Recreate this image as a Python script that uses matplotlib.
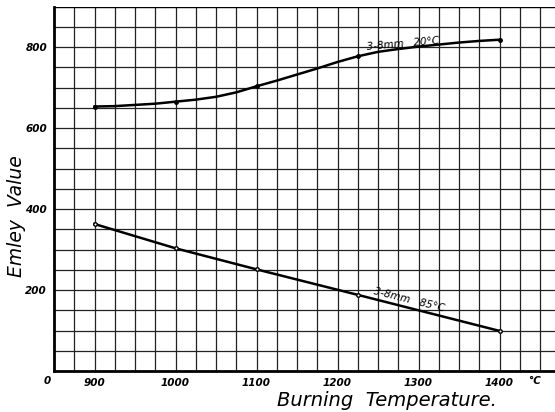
import matplotlib
matplotlib.use("Agg")
import matplotlib.pyplot as plt
import numpy as np

# measured points (with dots on the sheet)
temp_pts = [900, 1000, 1100, 1225, 1400]
emley_20c_pts = [653, 665, 703, 778, 818]
emley_85c_pts = [363, 303, 251, 188, 99]

# curve of the 20 C series
temp_curve = [900, 925, 950, 975, 1000, 1025, 1050, 1075, 1100, 1125, 1150, 1175,
              1200, 1225, 1250, 1275, 1300, 1325, 1350, 1375, 1400]
emley_20c_curve = [653, 654, 657, 660, 665, 670, 677, 688, 703, 717, 732, 747,
                   763, 777, 788, 795, 801, 806, 811, 815, 818]

xticks = [900, 1000, 1100, 1200, 1300, 1400]
yticks = [200, 400, 600, 800]

fig = plt.figure(figsize=(5.55, 4.12), dpi=100)
ax = fig.add_axes([54/555, 41/412, 1 - 54/555, 364.5/412])
ax.set_xlim(850, 1468.5)
ax.set_ylim(0, 900)

# grid paper
for gx in np.arange(875, 1468, 25):
    ax.axvline(gx, color="#222222", lw=0.9, zorder=1)
for gy in np.arange(50, 901, 50):
    ax.axhline(gy, color="#222222", lw=0.9, zorder=1)

ax.plot(temp_curve, emley_20c_curve, color="black", lw=1.8, zorder=3)
ax.plot(temp_pts, emley_20c_pts, "o", color="black", ms=2.5, zorder=4)
ax.plot(temp_pts, emley_85c_pts, color="black", lw=1.8, zorder=3)
ax.plot(temp_pts, emley_85c_pts, "o", color="black", ms=2.5, mfc="white", mew=1, zorder=4)

for s in ["top", "right"]:
    ax.spines[s].set_visible(False)
ax.spines["left"].set_linewidth(2)
ax.spines["bottom"].set_linewidth(2)
ax.axhline(900, color="black", lw=1.6, zorder=2)

ax.set_xticks(xticks)
ax.set_yticks(yticks)
ax.tick_params(length=0, pad=5)
for lab in ax.get_xticklabels() + ax.get_yticklabels():
    lab.set_fontstyle("italic")
    lab.set_fontweight("bold")
    lab.set_fontsize(7.5)

fig.text(47/555, 1 - 381/412, "0", fontsize=7.5, style="italic", weight="bold",
         ha="center", va="center")
fig.text(535/555, 1 - 381/412, "°C", fontsize=7.5, style="italic", weight="bold",
         ha="center", va="center")

ax.text(1281, 808, "3-8mm   20°C", fontsize=7.5, style="italic", rotation=5,
        ha="center", va="center", zorder=5)
ax.text(1288, 176, "3-8mm   85°C", fontsize=7.5, style="italic", rotation=-14,
        ha="center", va="center", zorder=5)

fig.text(17/555, 1 - 216/412, "Emley  Value", fontsize=13.5, style="italic",
         rotation=90, ha="center", va="center")
fig.text(387/555, 1 - 401/412, "Burning  Temperature.", fontsize=14, style="italic",
         ha="center", va="center")

fig.savefig("out.png", dpi=100)
